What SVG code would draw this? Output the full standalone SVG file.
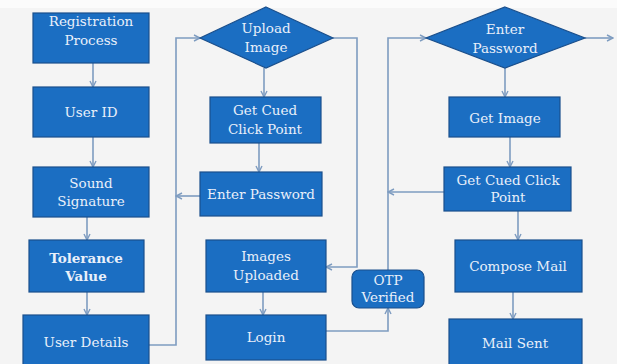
<svg xmlns="http://www.w3.org/2000/svg" width="617" height="364" viewBox="0 0 617 364">
<style>
.n{fill:#1b6ec2;stroke:#1a4f8c;stroke-width:1.2}
.t{font-family:"DejaVu Serif","Liberation Serif",serif;font-size:13.5px;fill:#e9f0fa;text-anchor:middle}
.b{font-weight:bold}
.c{fill:none;stroke:#7e9cc0;stroke-width:1.6}
</style>
<defs>
<marker id="a" markerWidth="8" markerHeight="8" refX="7" refY="4" orient="auto" markerUnits="userSpaceOnUse">
<path d="M1,1 L7,4 L1,7" fill="none" stroke="#7e9cc0" stroke-width="1.4"/>
</marker>
</defs>
<rect width="617" height="364" fill="#f4f4f4"/>
<rect width="617" height="8" fill="#fbfbfb"/>
<g id="connectors">
<path class="c" d="M93,63 V87" marker-end="url(#a)"/>
<path class="c" d="M93,137 V167" marker-end="url(#a)"/>
<path class="c" d="M87,217 V240" marker-end="url(#a)"/>
<path class="c" d="M87,292 V315" marker-end="url(#a)"/>
<path class="c" d="M149,345 H176 V38 H200" marker-end="url(#a)"/>
<path class="c" d="M200,196 H176" marker-end="url(#a)"/>
<path class="c" d="M264,68 V97" marker-end="url(#a)"/>
<path class="c" d="M259,143 V172" marker-end="url(#a)"/>
<path class="c" d="M333,38 H357 V267 H326" marker-end="url(#a)"/>
<path class="c" d="M263,292 V315" marker-end="url(#a)"/>
<path class="c" d="M326,331 H388 V308" marker-end="url(#a)"/>
<path class="c" d="M388,270 V38 H426" marker-end="url(#a)"/>
<path class="c" d="M444,192 H388" marker-end="url(#a)"/>
<path class="c" d="M585,38 H613" marker-end="url(#a)"/>
<path class="c" d="M505,68 V97" marker-end="url(#a)"/>
<path class="c" d="M510,137 V167" marker-end="url(#a)"/>
<path class="c" d="M518,211 V240" marker-end="url(#a)"/>
<path class="c" d="M513,292 V319" marker-end="url(#a)"/>
</g>
<g id="registration"><rect class="n" x="33" y="13" width="116" height="50"/><text class="t" x="91" y="26">Registration</text><text class="t" x="91" y="45">Process</text></g>
<g id="userid"><rect class="n" x="33" y="87" width="116" height="50"/><text class="t" x="91" y="117">User ID</text></g>
<g id="sound"><rect class="n" x="33" y="167" width="116" height="50"/><text class="t" x="91" y="188">Sound</text><text class="t" x="91" y="206">Signature</text></g>
<g id="tolerance"><rect class="n" x="29" y="240" width="115" height="52"/><text class="t b" x="86" y="263">Tolerance</text><text class="t b" x="86" y="281">Value</text></g>
<g id="userdetails"><rect class="n" x="23" y="315" width="126" height="52"/><text class="t" x="86" y="347">User Details</text></g>
<g id="upload"><polygon class="n" points="266,7 333,38 266,68 200,38"/><text class="t" x="266" y="33">Upload</text><text class="t" x="266" y="52">Image</text></g>
<g id="getcued1"><rect class="n" x="210" y="97" width="111" height="46"/><text class="t" x="265" y="115">Get Cued</text><text class="t" x="265" y="134">Click Point</text></g>
<g id="enterpw1"><rect class="n" x="200" y="172" width="122" height="44"/><text class="t" x="261" y="199">Enter Password</text></g>
<g id="imagesup"><rect class="n" x="206" y="240" width="120" height="52"/><text class="t" x="266" y="261">Images</text><text class="t" x="266" y="280">Uploaded</text></g>
<g id="login"><rect class="n" x="206" y="315" width="120" height="45"/><text class="t" x="266" y="342">Login</text></g>
<g id="otp"><rect class="n" x="352" y="270" width="72" height="38" rx="7"/><text class="t" x="388" y="285">OTP</text><text class="t" x="388" y="302">Verified</text></g>
<g id="enterpw2"><polygon class="n" points="505,7 585,38 505,68 426,38"/><text class="t" x="505" y="34">Enter</text><text class="t" x="505" y="53">Password</text></g>
<g id="getimage"><rect class="n" x="449" y="97" width="111" height="40"/><text class="t" x="505" y="123">Get Image</text></g>
<g id="getcued2"><rect class="n" x="444" y="167" width="127" height="44"/><text class="t" x="508" y="185">Get Cued Click</text><text class="t" x="508" y="202">Point</text></g>
<g id="compose"><rect class="n" x="455" y="240" width="127" height="52"/><text class="t" x="518" y="271">Compose Mail</text></g>
<g id="mailsent"><rect class="n" x="449" y="319" width="133" height="48"/><text class="t" x="515" y="348">Mail Sent</text></g>
</svg>
